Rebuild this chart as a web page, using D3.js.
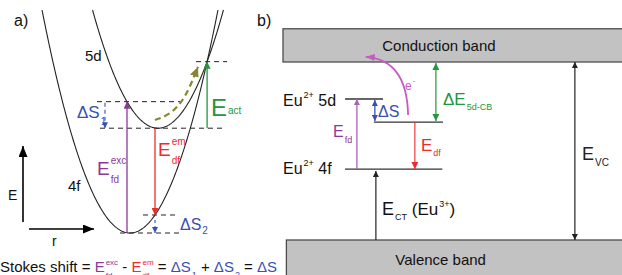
<!DOCTYPE html>
<html>
<head>
<meta charset="utf-8">
<script src="https://cdn.jsdelivr.net/npm/d3@7"></script>
<style>
body { margin: 0; background: #fff; }
svg { display: block; font-family: "Liberation Sans", Arial, sans-serif; }
text { white-space: pre; }
</style>
</head>
<body>
<svg id="fig" width="622" height="275"></svg>
<script>

//  Data

// a) configuration coordinate diagram: minimum (r, E) and curvature of each state
var stateNames = ['4f', '5d'];
var stateR0 = [50, 64];
var stateE0 = [0, 47];
var stateK = [0.0517, 0.0495];

// r of the vertical transitions
var rExc = 48.5;   // absorption 4f -> 5d
var rEm = 62.5;    // emission 5d -> 4f

// b) band diagram, energies above the valence band top
var bandNames = ['Valence band', 'Conduction band'];
var bandLow = [-2, 7.5];
var bandHigh = [0, 8.9];
var levelNames = ['4f', '5d', '5d relaxed'];
var levelE = [2.99, 5.94, 4.97];

var C = {
    purple: '#8b3a97', purple2: '#a863b5', red: '#ee2b2b', green: '#24963b',
    blue: '#3a4fb3', olive: '#87872f', magenta: '#c55cc1', dark: '#222'
};

var svg = d3.select('#fig');
var defs = svg.append('defs');

function head(id, color, len, wid){
    defs.append('marker').attr('id', id)
        .attr('viewBox', '0 0 10 10').attr('preserveAspectRatio', 'none')
        .attr('refX', 10).attr('refY', 5)
        .attr('markerUnits', 'userSpaceOnUse')
        .attr('markerWidth', len).attr('markerHeight', wid)
        .attr('orient', 'auto-start-reverse')
        .append('path').attr('d', 'M0,0L10,5L0,10z').attr('fill', color);
}
head('hBlack', C.dark, 6, 6);
head('hAxis', '#000', 11, 9);
head('hPurple', C.purple, 7, 7);
head('hPurple2', C.purple2, 6, 6);
head('hRed', C.red, 7, 7);
head('hGreen', C.green, 7, 7);
head('hBlue', C.blue, 6, 6);
head('hOlive', C.olive, 10, 9);
head('hMag', C.magenta, 9, 7);

// text with optional stacked super/subscript, returns x after it
function rich(g, x, y, parts){
    var cx = x;
    parts.forEach(function(p){
        var t = g.append('text').attr('x', cx).attr('y', y)
            .attr('font-size', p.s).attr('fill', p.c || '#111').text(p.t);
        var w = t.node().getComputedTextLength();
        var ew = 0;
        if(p.sup){
            var a = g.append('text').attr('x', cx + w + 1).attr('y', y + (p.supDy || -p.s * 0.5))
                .attr('font-size', p.ss || p.s * 0.55).attr('fill', p.c || '#111').text(p.sup);
            ew = Math.max(ew, a.node().getComputedTextLength() + 1);
        }
        if(p.sub){
            var b = g.append('text').attr('x', cx + w + 1).attr('y', y + (p.subDy || p.s * 0.4))
                .attr('font-size', p.ss || p.s * 0.55).attr('fill', p.c || '#111').text(p.sub);
            ew = Math.max(ew, b.node().getComputedTextLength() + 1);
        }
        cx += w + ew;
    });
    return cx;
}

function seg(g, x1, y1, x2, y2, color, w, dash, m1, m2){
    var l = g.append('line').attr('x1', x1).attr('y1', y1).attr('x2', x2).attr('y2', y2)
        .attr('stroke', color).attr('stroke-width', w);
    if(dash) l.attr('stroke-dasharray', dash);
    if(m1) l.attr('marker-start', 'url(#' + m1 + ')');
    if(m2) l.attr('marker-end', 'url(#' + m2 + ')');
    return l;
}


//  a) Configuration coordinate diagram

var ga = svg.append('g');
var xA = d3.scaleLinear().domain([0, 100]).range([30, 230]);
var yA = d3.scaleLinear().domain([0, 100]).range([233, 10]);

function pot(i, r){ return stateE0[i] + stateK[i] * (r - stateR0[i]) * (r - stateR0[i]); }

var curve = d3.line().x(function(d){ return xA(d[0]); }).y(function(d){ return yA(d[1]); });

stateNames.forEach(function(n, i){
    var half = Math.sqrt((100 - stateE0[i]) / stateK[i]);
    var pts = d3.range(stateR0[i] - half, stateR0[i] + half, 0.5).map(function(r){ return [r, pot(i, r)]; });
    pts.push([stateR0[i] + half, 100]);
    ga.append('path').attr('d', curve(pts)).attr('fill', 'none')
        .attr('stroke', C.dark).attr('stroke-width', 1.1);
});

// crossing of the two parabolas (bisection)
var lo = stateR0[1], hi = 100;
for(var it = 0; it < 40; it++){
    var mid = (lo + hi) / 2;
    if(pot(0, mid) < pot(1, mid)) lo = mid; else hi = mid;
}
var rCross = lo, eCross = pot(0, rCross);
var eExc = pot(1, rExc), eEmEnd = pot(0, rEm);

// dashed guide levels [E, r from, r to]
var guides = [
    [eCross, rCross - 5.5, rCross + 10],
    [eExc, 33.5, 75],
    [stateE0[1], 35, 97.5],
    [eEmEnd, 56.5, 73],
    [stateE0[0], 45, 75]
];
guides.forEach(function(d){
    seg(ga, xA(d[1]), yA(d[0]), xA(d[2]), yA(d[0]), '#222', 1, '5,4');
});

// transitions
seg(ga, xA(rExc), yA(0), xA(rExc), yA(eExc), C.purple, 1.3, null, null, 'hPurple');
seg(ga, xA(rEm), yA(stateE0[1]), xA(rEm), yA(eEmEnd), C.red, 1.3, null, null, 'hRed');
seg(ga, xA(rCross), yA(stateE0[1]), xA(rCross), yA(eCross), C.green, 1.3, null, null, 'hGreen');
seg(ga, xA(37.5), yA(eExc) + 1, xA(37.5), yA(stateE0[1]), C.blue, 1.1, '4,3', null, 'hBlue');
seg(ga, xA(rEm), yA(eEmEnd) + 5, xA(rEm), yA(0), C.blue, 1.1, '3,3', null, 'hBlue');

// thermal activation path
var olivePts = [[62.5, 50.7], [70, 53], [77.5, 60], [84, 74.5]];
ga.append('path')
    .attr('d', d3.line().curve(d3.curveBasis).x(function(d){ return xA(d[0]); }).y(function(d){ return yA(d[1]); })(olivePts))
    .attr('fill', 'none').attr('stroke', C.olive).attr('stroke-width', 2.2)
    .attr('stroke-dasharray', '6,4').attr('marker-end', 'url(#hOlive)');

// E and r axes
seg(ga, 23, 222, 23, 146, '#000', 1.6, null, null, 'hAxis');
seg(ga, 29, 229, 94, 229, '#000', 1.6, null, null, 'hAxis');
rich(ga, 8, 200, [{t: 'E', s: 14}]);
rich(ga, 52, 246, [{t: 'r', s: 14}]);

rich(ga, 14, 26, [{t: 'a)', s: 16}]);
rich(ga, 85, 61, [{t: stateNames[1], s: 15}]);
rich(ga, 68, 191, [{t: stateNames[0], s: 15}]);

rich(ga, 97, 175, [{t: 'E', s: 19, c: C.purple, sup: 'exc', sub: 'fd', ss: 10, supDy: -11, subDy: 8}]);
rich(ga, 158, 156, [{t: 'E', s: 19, c: C.red, sup: 'em', sub: 'df', ss: 10, supDy: -11, subDy: 8}]);
rich(ga, 211, 116, [{t: 'E', s: 24, c: C.green, sub: 'act', ss: 10, subDy: -2}]);
rich(ga, 77, 118, [{t: '\u0394S', s: 17, c: C.blue, sub: '1', ss: 10, subDy: 7}]);
rich(ga, 180, 230, [{t: '\u0394S', s: 16, c: C.blue, sub: '2', ss: 10, subDy: 4}]);

// Stokes shift formula
rich(ga, 0, 272, [
    {t: 'Stokes shift = ', s: 15},
    {t: 'E', s: 15, c: C.purple, sup: 'exc', sub: 'fd', ss: 8, supDy: -7, subDy: 6},
    {t: ' - ', s: 15},
    {t: 'E', s: 15, c: C.red, sup: 'em', sub: 'df', ss: 8, supDy: -7, subDy: 6},
    {t: ' = ', s: 15},
    {t: '\u0394S', s: 15, c: C.blue, sub: '1', ss: 9, subDy: 6},
    {t: ' + ', s: 15},
    {t: '\u0394S', s: 15, c: C.blue, sub: '2', ss: 9, subDy: 6},
    {t: ' = ', s: 15},
    {t: '\u0394S', s: 15, c: C.blue}
]);


//  b) Band diagram

var gb = svg.append('g');
var xB = d3.scaleLinear().domain([0, 100]).range([283, 622]);
var yB = d3.scaleLinear().domain([0, 7.5]).range([240, 62]);

bandNames.forEach(function(n, i){
    var x0 = i == 0 ? xB(1) : xB(0);
    gb.append('rect').attr('x', x0).attr('y', yB(bandHigh[i]))
        .attr('width', xB(101) - x0).attr('height', yB(bandLow[i]) - yB(bandHigh[i]))
        .attr('fill', '#c2c2c2').attr('stroke', '#4d4d4d').attr('stroke-width', 1.3);
});
gb.append('text').attr('x', xB(46)).attr('y', 51).attr('text-anchor', 'middle')
    .attr('font-size', 15).attr('fill', '#111').text(bandNames[1]);
gb.append('text').attr('x', xB(46.5)).attr('y', 265).attr('text-anchor', 'middle')
    .attr('font-size', 15).attr('fill', '#111').text(bandNames[0]);

// levels [from, to] in x units
var levelX = [[18.3, 47], [18.3, 29.5], [26.8, 47.2]];
levelE.forEach(function(e, i){
    seg(gb, xB(levelX[i][0]), yB(e), xB(levelX[i][1]), yB(e), '#333', 1.3);
});

// arrows
seg(gb, xB(21.8), yB(levelE[0]), xB(21.8), yB(levelE[1]), C.purple2, 1.3, null, null, 'hPurple2');
seg(gb, xB(27.1), yB(levelE[1]) + 1, xB(27.1), yB(levelE[2]) - 1, C.blue, 1.3, null, 'hBlue', 'hBlue');
seg(gb, xB(38.9), yB(levelE[2]), xB(38.9), yB(levelE[0]), C.red, 1.1, null, null, 'hRed');
seg(gb, xB(45.1), yB(bandHigh[0]) + 0, xB(45.1), yB(bandHigh[0]), C.green, 1);
seg(gb, xB(45.1), yB(bandLow[1]) + 1, xB(45.1), yB(levelE[2]) - 1, C.green, 1.2, null, 'hGreen', 'hGreen');
seg(gb, xB(27.4), yB(bandHigh[0]), xB(27.4), yB(levelE[0]) + 2, C.dark, 1.2, null, null, 'hBlack');
seg(gb, xB(86.1), yB(bandHigh[0]), xB(86.1), yB(bandLow[1]), C.dark, 1.2, null, 'hBlack', 'hBlack');

// electron escaping to the conduction band
gb.append('path')
    .attr('d', 'M' + xB(36.9) + ',' + yB(5.27) + 'Q' + xB(36.6) + ',' + yB(7.6) + ' ' + xB(24.4) + ',' + yB(7.72))
    .attr('fill', 'none').attr('stroke', C.magenta).attr('stroke-width', 1.8)
    .attr('marker-end', 'url(#hMag)');

rich(gb, 257, 26, [{t: 'b)', s: 16}]);
rich(gb, 283, 106, [{t: 'Eu', s: 16, sup: '2+', ss: 9, supDy: -8}, {t: ' ' + levelNames[1], s: 16}]);
rich(gb, 283, 174, [{t: 'Eu', s: 16, sup: '2+', ss: 9, supDy: -8}, {t: ' ' + levelNames[0], s: 16}]);
rich(gb, 333, 137, [{t: 'E', s: 16, c: C.purple, sub: 'fd', ss: 9, subDy: 6}]);
rich(gb, 378, 117, [{t: '\u0394S', s: 16, c: C.blue}]);
rich(gb, 421, 151, [{t: 'E', s: 17, c: C.red, sub: 'df', ss: 9, subDy: 5}]);
rich(gb, 443, 105, [{t: '\u0394E', s: 17, c: C.green, sub: '5d-CB', ss: 9, subDy: 5}]);
rich(gb, 405, 90, [{t: 'e', s: 12, c: C.magenta, sup: '-', ss: 8, supDy: -7}]);
rich(gb, 382, 215, [{t: 'E', s: 18, sub: 'CT', ss: 9, subDy: 5},
                    {t: ' (Eu', s: 17, sup: '3+', ss: 9, supDy: -8},
                    {t: ')', s: 17}]);
rich(gb, 582, 160, [{t: 'E', s: 18, c: '#222', sub: 'VC', ss: 10, subDy: 6}]);

</script>
</body>
</html>
